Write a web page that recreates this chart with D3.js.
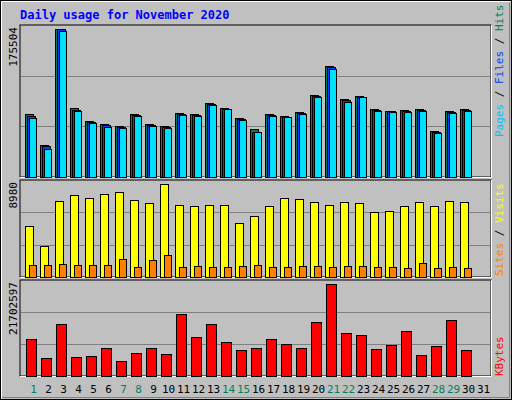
<!DOCTYPE html>
<html><head><meta charset="utf-8">
<script src="https://cdn.jsdelivr.net/npm/d3@7"></script>
<style>body{margin:0;background:#fff}svg{display:block}</style>
</head><body>
<svg id="chart" width="512" height="400"></svg>
<script>
const days = d3.range(1, 32);
const weekendDays = [1, 7, 8, 14, 15, 21, 22, 28, 29];
const hits = [74426, 37014, 175504, 81192, 65670, 62088, 59700, 74426, 62088, 59700, 75222, 74426, 87162, 81192, 69650, 56118, 74426, 71640, 76416, 96714, 130544, 92336, 95520, 79998, 77610, 78804, 79998, 53730, 77610, 79998];
const files = [71640, 35820, 174722, 78804, 64476, 60894, 58506, 73232, 60894, 58506, 74028, 73232, 85968, 79998, 68456, 52536, 73232, 70844, 75222, 95520, 129350, 90744, 94724, 78804, 77610, 78008, 78804, 52536, 76416, 78804];
const pages = [69650, 32238, 173130, 77610, 63282, 58506, 57312, 71640, 59700, 57312, 72834, 71640, 84774, 79998, 66864, 52536, 71640, 70446, 74028, 94326, 127758, 88356, 94326, 77610, 76416, 76416, 77610, 51342, 75222, 77610];
const visits = [4895, 2950, 7327, 7910, 7619, 8008, 8202, 7424, 7132, 8980, 6938, 6841, 6938, 6938, 5187, 5868, 6841, 7619, 7521, 7230, 6938, 7230, 7132, 6257, 6354, 6841, 7230, 6841, 7327, 7230];
const sites = [1135, 1135, 1232, 1135, 1135, 1135, 1718, 940, 1621, 2107, 940, 1037, 940, 940, 1037, 1135, 940, 940, 1037, 1037, 940, 1037, 1037, 940, 940, 843, 1329, 843, 940, 843];
const kbytes = [8680980, 4182654, 12232290, 4419408, 4656162, 6550194, 3472392, 5366424, 6550194, 5129670, 14599830, 9154488, 12232290, 7970718, 6076686, 6550194, 8680980, 7497210, 6550194, 12705798, 21702597, 10101504, 9627996, 6313440, 7260456, 10575012, 4892916, 7023702, 13179306, 6076686];

const svg = d3.select('#chart');
const font = "'DejaVu Sans Mono', monospace";

// frame
svg.append('rect').attr('x', 0.5).attr('y', 0.5).attr('width', 511).attr('height', 399).attr('fill', '#c0c0c0').attr('stroke', '#000');
svg.append('path').attr('d', 'M1.5 398.5 V1.5 H510.5').attr('fill', 'none').attr('stroke', '#fff').attr('stroke-width', 1);
svg.append('path').attr('d', 'M2.5 397.5 H509.5 V2.5').attr('fill', 'none').attr('stroke', '#808080').attr('stroke-width', 1);

svg.append('text').attr('x', 20).attr('y', 19).attr('fill', '#0000ff').attr('font-family', font)
	.attr('font-weight', 'bold').attr('font-size', 12).text('Daily usage for November 2020');

const x = d3.scaleBand().domain(days).range([24, 489]);

function panel(top, bottom, maxVal, label) {
	svg.append('rect').attr('x', 20).attr('y', top).attr('width', 471).attr('height', bottom - top)
		.attr('fill', '#c0c0c0').attr('stroke', '#000');
	svg.append('path').attr('d', `M20 ${bottom + 0.5} H491.5 V${top}`).attr('fill', 'none').attr('stroke', '#fff');
	const y = d3.scaleLinear().domain([0, maxVal]).range([bottom - 0.5, bottom - 0.5 - (bottom - top - 4)]);
	const h = bottom - top;
	[1 / 3, 2 / 3].forEach(f => {
		const gy = Math.round(bottom - h * f) + 0.5;
		svg.append('line').attr('x1', 21).attr('x2', 490).attr('y1', gy).attr('y2', gy).attr('stroke', '#808080');
	});
	svg.append('text').attr('transform', `translate(17,${top + 2}) rotate(-90)`).attr('text-anchor', 'end')
		.attr('font-family', font).attr('font-size', 11).attr('fill', '#000').text(label);
	return y;
}

function bars(data, y, off, w, fill, stroke) {
	svg.append('g').selectAll('rect').data(data).join('rect')
		.attr('x', (d, i) => x(i + 1) + off + 0.5)
		.attr('y', d => Math.round(y(d)) + 0.5)
		.attr('width', w)
		.attr('height', d => Math.max(0, Math.round(y(0)) - Math.round(y(d))))
		.attr('fill', fill).attr('stroke', stroke);
}

function rightLabel(parts, yBottom) {
	const t = svg.append('text').attr('transform', `translate(503,${yBottom}) rotate(-90)`)
		.attr('font-family', font).attr('font-size', 11);
	parts.forEach(([s, c]) => t.append('tspan').attr('fill', c).text(s));
}

// hits / files / pages
const y1 = panel(25, 177, 175504, '175504');
bars(hits, y1, 1, 8, '#00805c', '#000');
bars(files, y1, 3, 8, '#0040ff', '#000');
bars(pages, y1, 5, 7, '#00e0ff', '#000');
rightLabel([['Pages', '#00c0ff'], [' / ', '#000'], ['Files', '#0040ff'], [' / ', '#000'], ['Hits', '#00805c']], 137);

// visits / sites
const y2 = panel(180, 277, 8980, '8980');
bars(visits, y2, 1, 8, '#ffff00', '#000');
bars(sites, y2, 5, 7, '#ff8000', '#000');
rightLabel([['Sites', '#ff8000'], [' / ', '#000'], ['Visits', '#ffff00']], 276);

// kbytes
const y3 = panel(280, 376, 21702597, '21702597');
bars(kbytes, y3, 2, 10, '#ff0000', '#000');
rightLabel([['KBytes', '#ff0000']], 376);

svg.append('g').selectAll('text').data(days).join('text')
	.attr('x', d => x(d) + x.bandwidth() / 2 + 2)
	.attr('y', 393).attr('text-anchor', 'middle')
	.attr('font-family', font).attr('font-size', 11)
	.attr('fill', d => weekendDays.includes(d) ? '#00805c' : '#000')
	.text(d => d);
</script>
</body></html>
